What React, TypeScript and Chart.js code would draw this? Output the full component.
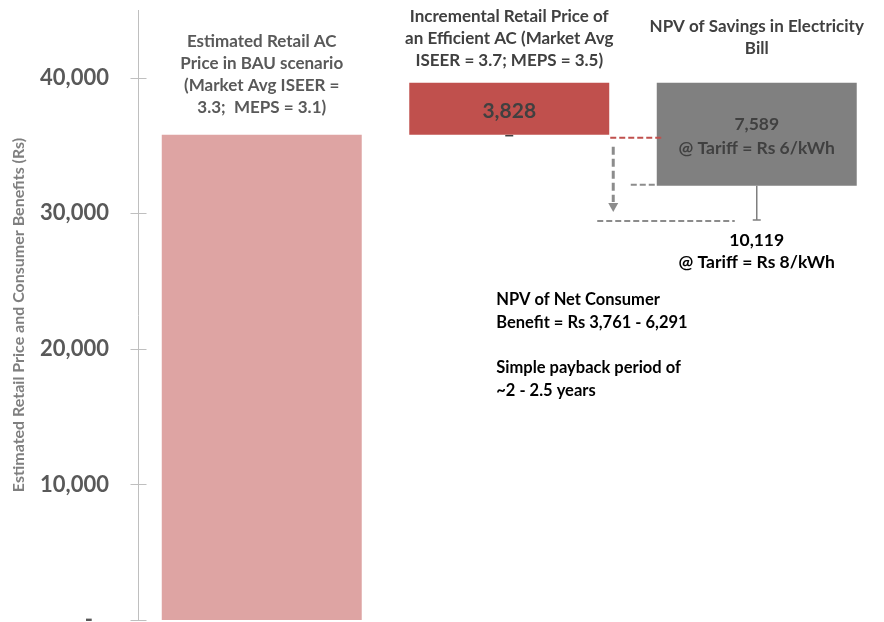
import React, { useEffect, useRef } from 'react';
import { Chart, registerables } from 'chart.js';

Chart.register(...registerables);

// ---- data ----
const categories = ['BAU price', 'Incremental price', 'NPV of savings'];
const categoryLabels: string[][] = [
  ['Estimated Retail AC', 'Price in BAU scenario', '(Market Avg ISEER =', '3.3;  MEPS = 3.1)'],
  ['Incremental Retail Price of', 'an Efficient AC (Market Avg', 'ISEER = 3.7; MEPS = 3.5)'],
  ['NPV of Savings in Electricity', 'Bill'],
];
const bauPrice = 35800;
const incrementalPrice = 3828;
const savingsLow = 7589; // @ Tariff = Rs 6/kWh
const savingsHigh = 10119; // @ Tariff = Rs 8/kWh
const tariffLow = '@ Tariff = Rs 6/kWh';
const tariffHigh = '@ Tariff = Rs 8/kWh';
const yTicks = [0, 10000, 20000, 30000, 40000];
const yMax = 45000;
const yTitle = 'Estimated Retail Price and Consumer Benefits (Rs)';
const netBenefitText = [
  'NPV of Net Consumer',
  'Benefit = Rs 3,761 - 6,291',
  '',
  'Simple payback period of',
  '~2 - 2.5 years',
];
const barColors = ['#dea4a3', '#c0504d', '#808080'];

const fmt = (v: number) => v.toLocaleString('en-US');
const FONT = 'Lato, "Open Sans", sans-serif';

const annotationPlugin = {
  id: 'annotations',
  afterDraw(chart: any) {
    const { ctx, scales } = chart;
    const y = scales.y;
    const meta = chart.getDatasetMeta(0);
    const bars = meta.data;
    ctx.save();

    // crossing tick marks on y axis
    ctx.strokeStyle = '#bfbfbf';
    ctx.lineWidth = 1;
    const ax = Math.round(y.right) + 0.5;
    yTicks.forEach((t) => {
      const py = Math.round(y.getPixelForValue(t)) + 0.5;
      ctx.beginPath();
      ctx.moveTo(ax - 8, py);
      ctx.lineTo(ax + 8, py);
      ctx.stroke();
    });

    // category labels above bars
    const offsets = [27, 22, 34];
    const colors = ['#595959', '#404040', '#404040'];
    ctx.font = `bold 17px ${FONT}`;
    ctx.textAlign = 'center';
    ctx.textBaseline = 'middle';
    categoryLabels.forEach((lines, i) => {
      const b = bars[i];
      const top = Math.min(b.y, b.base);
      ctx.fillStyle = colors[i];
      const n = lines.length;
      lines.forEach((ln, k) => {
        ctx.fillText(ln, b.x, top - offsets[i] - (n - 1 - k) * 22);
      });
    });

    // value labels
    const b1 = bars[1];
    ctx.fillStyle = '#404040';
    ctx.font = `bold 21px ${FONT}`;
    ctx.fillText(fmt(incrementalPrice), b1.x, (b1.y + b1.base) / 2 + 2);

    const b2 = bars[2];
    ctx.font = `bold 17.5px ${FONT}`;
    const mid2 = (b2.y + b2.base) / 2;
    ctx.fillText(fmt(savingsLow), b2.x, mid2 - 10);
    ctx.fillText(tariffLow, b2.x, mid2 + 14);

    // error bar on savings bar
    const topVal = bauPrice + incrementalPrice;
    const errY = y.getPixelForValue(topVal - savingsHigh);
    ctx.strokeStyle = '#7f7f7f';
    ctx.lineWidth = 1.5;
    ctx.beginPath();
    ctx.moveTo(b2.x, b2.base);
    ctx.lineTo(b2.x, errY);
    ctx.moveTo(b2.x - 4, errY);
    ctx.lineTo(b2.x + 4, errY);
    ctx.stroke();

    // small cap under incremental bar
    ctx.strokeStyle = '#404040';
    ctx.beginPath();
    ctx.moveTo(b1.x - 4, b1.base + 1);
    ctx.lineTo(b1.x + 4, b1.base + 1);
    ctx.stroke();

    ctx.fillStyle = '#000000';
    ctx.font = `bold 17.5px ${FONT}`;
    ctx.fillText(fmt(savingsHigh), b2.x, errY + 20);
    ctx.fillText(tariffHigh, b2.x, errY + 42);

    // dashed connectors
    const right1 = b1.x + b1.width / 2;
    const left2 = b2.x - b2.width / 2;
    const baseY = y.getPixelForValue(bauPrice) + 3;
    ctx.setLineDash([6, 3]);
    ctx.lineWidth = 2;
    ctx.strokeStyle = '#c0504d';
    ctx.beginPath();
    ctx.moveTo(right1 + 1, baseY);
    ctx.lineTo(left2 + 5, baseY);
    ctx.stroke();

    ctx.strokeStyle = '#8c8c8c';
    ctx.lineWidth = 3;
    ctx.setLineDash([8, 4]);
    const arrX = right1 + 4;
    const arrTop = baseY + 9;
    const arrBot = errY - 18;
    ctx.beginPath();
    ctx.moveTo(arrX, arrTop);
    ctx.lineTo(arrX, arrBot);
    ctx.stroke();
    ctx.setLineDash([]);
    ctx.fillStyle = '#8c8c8c';
    ctx.beginPath();
    ctx.moveTo(arrX - 5, arrBot + 1);
    ctx.lineTo(arrX + 5, arrBot + 1);
    ctx.lineTo(arrX, arrBot + 10);
    ctx.closePath();
    ctx.fill();

    ctx.setLineDash([6, 3]);
    ctx.lineWidth = 2;
    ctx.beginPath();
    ctx.moveTo(left2 - 26, b2.base - 1);
    ctx.lineTo(left2, b2.base - 1);
    ctx.stroke();
    ctx.beginPath();
    ctx.moveTo(right1 - 12, errY + 1);
    ctx.lineTo(b2.x - 22, errY + 1);
    ctx.stroke();
    ctx.setLineDash([]);

    // net benefit note
    ctx.fillStyle = '#000000';
    ctx.textAlign = 'left';
    ctx.font = `bold 16.5px ${FONT}`;
    const noteX = b1.x - 13;
    const noteY = errY + 80;
    netBenefitText.forEach((ln, k) => {
      if (!ln) return;
      const extra = k >= 3 ? -1 : 0;
      ctx.fillText(ln, noteX, noteY + k * 23 + extra);
    });

    ctx.restore();
  },
};

export default function App() {
  const ref = useRef<HTMLCanvasElement>(null);
  useEffect(() => {
    document.body.style.margin = '0';
    const chart = new Chart(ref.current!, {
      type: 'bar',
      data: {
        labels: categories,
        datasets: [
          {
            data: [
              [0, bauPrice],
              [bauPrice, bauPrice + incrementalPrice],
              [bauPrice + incrementalPrice - savingsLow, bauPrice + incrementalPrice],
            ] as any,
            backgroundColor: barColors,
            borderWidth: 0,
            barPercentage: 0.808,
            categoryPercentage: 1,
          },
        ],
      },
      options: {
        animation: false,
        responsive: false,
        maintainAspectRatio: false,
        layout: { padding: { top: 10, bottom: 2, right: 3.5, left: 0 } },
        plugins: { legend: { display: false }, tooltip: { enabled: false } },
        scales: {
          x: { display: false },
          y: {
            min: 0,
            max: yMax,
            afterBuildTicks(scale: any) {
              scale.ticks = yTicks.map((v) => ({ value: v }));
            },
            afterFit(scale: any) {
              scale.width = 138;
              scale.paddingTop = 0;
              scale.paddingBottom = 0;
            },
            ticks: {
              autoSkip: false,
              padding: 21,
              color: '#595959',
              font: { family: FONT, size: 22, weight: 'bold' },
              callback: (v: any) => {
                const n = Number(v);
                return n === 0 ? '-   ' : fmt(n);
              },
            },
            grid: { display: false },
            border: { display: true, color: '#bfbfbf', width: 1 },
            title: {
              display: true,
              text: yTitle,
              color: '#7f7f7f',
              font: { family: FONT, size: 16, weight: 'bold' },
              padding: { top: 9, bottom: 0 },
            },
          },
        },
      },
      plugins: [annotationPlugin],
    });
    return () => chart.destroy();
  }, []);
  return (
    <div style={{ width: 884, height: 622, background: '#ffffff' }}>
      <canvas ref={ref} width={884} height={622} style={{ display: 'block' }} />
    </div>
  );
}
